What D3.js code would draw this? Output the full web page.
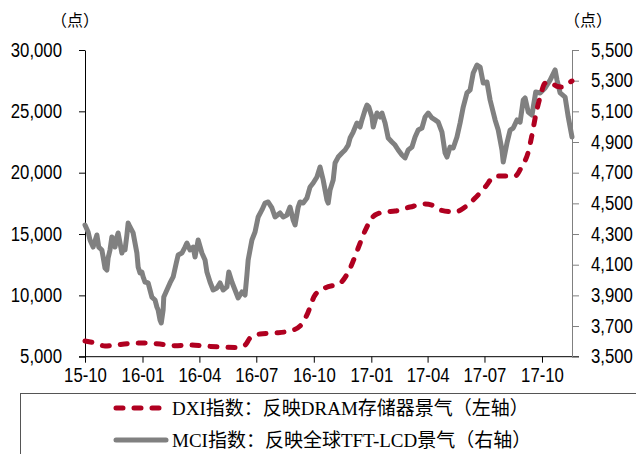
<!DOCTYPE html>
<html><head><meta charset="utf-8">
<script src="https://cdn.jsdelivr.net/npm/d3@7"></script>
<style>body{margin:0;background:#fff}svg{display:block}</style>
</head><body>
<svg id="c" width="636" height="454"></svg>
<script>
const xTickLabels = ["15-10","16-01","16-04","16-07","16-10","17-01","17-04","17-07","17-10"];
const leftTicks = [5000,10000,15000,20000,25000,30000];
const rightTicks = [3500,3700,3900,4100,4300,4500,4700,4900,5100,5300,5500];
const unitLabel = "（点）";
const legendLabels = ["DXI指数：反映DRAM存储器景气（左轴）","MCI指数：反映全球TFT-LCD景气（右轴）"];

const dxiDates = ["2015-10-01","2015-10-17","2015-11-02","2015-11-18","2015-12-12","2016-01-05","2016-01-29","2016-02-22","2016-03-17","2016-04-10","2016-05-04","2016-05-28","2016-06-13","2016-06-21","2016-07-07","2016-07-31","2016-08-24","2016-09-09","2016-09-20","2016-10-03","2016-10-19","2016-11-12","2016-11-28","2016-12-11","2016-12-24","2017-01-07","2017-01-23","2017-02-08","2017-03-04","2017-03-28","2017-04-08","2017-04-21","2017-05-15","2017-05-31","2017-06-16","2017-07-02","2017-07-18","2017-08-03","2017-08-19","2017-08-30","2017-09-09","2017-09-15","2017-09-21","2017-09-28","2017-10-06","2017-10-14","2017-10-24","2017-11-02","2017-11-12","2017-11-18"];
const dxiValues = [6280,6120,5870,5950,6080,6120,6030,5900,5950,5870,5790,5750,5950,6520,6850,6930,7100,7500,8400,10030,10600,11000,12200,13860,15490,16550,16800,16870,17200,17450,17360,16960,16800,17200,17930,18830,19730,19730,19730,20540,21680,23070,24700,26170,27300,27390,27060,26980,27300,27470];

const mciDates = ["2015-10-01","2015-10-06","2015-10-09","2015-10-14","2015-10-20","2015-10-23","2015-10-28","2015-10-30","2015-11-02","2015-11-05","2015-11-07","2015-11-10","2015-11-13","2015-11-15","2015-11-18","2015-11-21","2015-11-23","2015-11-26","2015-11-29","2015-12-01","2015-12-04","2015-12-07","2015-12-09","2015-12-12","2015-12-17","2015-12-20","2015-12-23","2015-12-25","2015-12-28","2015-12-31","2016-01-02","2016-01-05","2016-01-10","2016-01-13","2016-01-16","2016-01-21","2016-01-24","2016-01-26","2016-01-29","2016-01-31","2016-02-03","2016-02-04","2016-02-09","2016-02-14","2016-02-19","2016-02-24","2016-02-27","2016-03-04","2016-03-09","2016-03-12","2016-03-17","2016-03-22","2016-03-25","2016-03-30","2016-04-05","2016-04-10","2016-04-13","2016-04-18","2016-04-23","2016-04-29","2016-05-04","2016-05-09","2016-05-15","2016-05-18","2016-05-23","2016-05-28","2016-06-02","2016-06-08","2016-06-13","2016-06-16","2016-06-18","2016-06-24","2016-06-29","2016-07-04","2016-07-10","2016-07-15","2016-07-20","2016-07-26","2016-07-31","2016-08-08","2016-08-13","2016-08-19","2016-08-24","2016-08-29","2016-09-01","2016-09-06","2016-09-09","2016-09-14","2016-09-20","2016-09-25","2016-09-30","2016-10-06","2016-10-11","2016-10-16","2016-10-22","2016-10-24","2016-10-27","2016-11-01","2016-11-04","2016-11-09","2016-11-15","2016-11-20","2016-11-25","2016-11-28","2016-12-03","2016-12-09","2016-12-14","2016-12-17","2016-12-22","2016-12-25","2016-12-28","2017-01-02","2017-01-04","2017-01-10","2017-01-15","2017-01-18","2017-01-23","2017-01-28","2017-02-03","2017-02-08","2017-02-13","2017-02-19","2017-02-24","2017-03-01","2017-03-07","2017-03-12","2017-03-17","2017-03-23","2017-03-28","2017-04-02","2017-04-08","2017-04-13","2017-04-18","2017-04-24","2017-04-29","2017-05-02","2017-05-07","2017-05-12","2017-05-18","2017-05-23","2017-05-28","2017-06-03","2017-06-08","2017-06-13","2017-06-19","2017-06-24","2017-06-29","2017-07-05","2017-07-10","2017-07-18","2017-07-23","2017-07-29","2017-07-31","2017-08-06","2017-08-11","2017-08-16","2017-08-22","2017-08-27","2017-09-01","2017-09-04","2017-09-09","2017-09-15","2017-09-21","2017-09-28","2017-10-06","2017-10-14","2017-10-22","2017-10-25","2017-10-30","2017-11-07","2017-11-12","2017-11-18"];
const mciValues = [4359,4313,4261,4215,4294,4215,4196,4150,4078,4065,4144,4196,4281,4261,4215,4281,4307,4241,4176,4209,4196,4294,4372,4346,4307,4241,4176,4085,4046,4052,4020,3987,3981,3935,3889,3870,3824,3805,3739,3720,3805,3889,3935,3981,4020,4111,4163,4176,4215,4241,4196,4215,4150,4261,4176,4131,4052,3987,3935,3948,3981,3935,3955,4052,3987,3935,3883,3922,3902,4033,4131,4261,4313,4411,4457,4502,4509,4470,4411,4437,4411,4424,4476,4391,4359,4476,4509,4502,4535,4607,4633,4672,4737,4652,4522,4502,4587,4652,4763,4802,4828,4848,4880,4926,4965,5024,4998,5044,5109,5141,5128,5063,4998,5089,5063,5089,5024,4926,4900,4880,4848,4815,4796,4848,4867,4933,4978,4991,5063,5089,5057,5044,5030,4965,4828,4802,4867,4861,4933,5024,5128,5220,5239,5350,5402,5389,5285,5291,5174,5044,4978,4848,4770,4894,4978,4991,5044,5030,5174,5187,5096,5076,5226,5220,5252,5304,5370,5304,5220,5193,5063,4933];

const parse = d3.timeParse("%Y-%m-%d");
const svg = d3.select("#c");
const x0 = 85, x1 = 572, yTop = 50, yBot = 356.7;
const RED = "#b00020", GRAY = "#808080";
const numFont = "'Liberation Sans',Arial,sans-serif";
const serifFont = "'Liberation Serif','Times New Roman','Noto Sans CJK SC',serif";
const SX = 0.86; // condensed look of the numeric labels

const x = d3.scaleTime().domain([parse("2015-10-01"), parse("2017-11-18")]).range([x0, x1]);
const yL = d3.scaleLinear().domain([5000, 30000]).range([yBot, yTop]);
const yR = d3.scaleLinear().domain([3500, 5500]).range([yBot, yTop]);

const xTickDates = xTickLabels.map(s => new Date(2000 + +s.slice(0,2), +s.slice(3) - 1, 1));

function condense(g) {
  g.selectAll(".tick text").each(function() {
    const t = d3.select(this);
    const xv = +t.attr("x") || 0;
    t.attr("x", xv / SX).attr("transform", `scale(${SX},1)`)
     .attr("font-family", numFont).attr("font-size", 19.5).attr("fill", "#000");
  });
}

// X axis
const gx = svg.append("g").attr("transform", `translate(0,${yBot})`)
  .call(d3.axisBottom(x).tickValues(xTickDates).tickSize(6).tickPadding(5)
    .tickFormat((d,i) => xTickLabels[i]).tickSizeOuter(0));
gx.select(".domain").remove();
gx.append("line").attr("x1", x0 - 6).attr("x2", x1 + 7).attr("stroke", "#000").attr("stroke-width", 1);
gx.selectAll(".tick line").attr("stroke", "#000");
condense(gx);

// Left axis
const gl = svg.append("g").attr("transform", `translate(${x0},0)`)
  .call(d3.axisLeft(yL).tickValues(leftTicks).tickSize(6).tickPadding(17)
    .tickFormat(d3.format(",")).tickSizeOuter(0));
gl.select(".domain").attr("stroke", "#000");
condense(gl);

// Right axis
const gr = svg.append("g").attr("transform", `translate(${x1},0)`)
  .call(d3.axisRight(yR).tickValues(rightTicks).tickSize(7).tickPadding(12)
    .tickFormat(d3.format(",")).tickSizeOuter(0));
gr.select(".domain").attr("stroke", GRAY);
gr.selectAll(".tick line").attr("stroke", GRAY);
condense(gr);

// Unit labels
svg.append("text").attr("x", 75).attr("y", 26).attr("text-anchor", "middle")
  .attr("font-family", serifFont).attr("font-size", 16).text(unitLabel);
svg.append("text").attr("x", 588).attr("y", 26).attr("text-anchor", "middle")
  .attr("font-family", serifFont).attr("font-size", 16).text(unitLabel);

// Lines
const mci = mciDates.map((d,i) => ({d: parse(d), v: mciValues[i]}));
const dxi = dxiDates.map((d,i) => ({d: parse(d), v: dxiValues[i]}));

svg.append("path").datum(mci)
  .attr("d", d3.line().x(p => x(p.d)).y(p => yR(p.v)))
  .attr("fill", "none").attr("stroke", GRAY).attr("stroke-width", 5)
  .attr("stroke-linejoin", "round").attr("stroke-linecap", "round");

svg.append("path").datum(dxi)
  .attr("d", d3.line().curve(d3.curveMonotoneX).x(p => x(p.d)).y(p => yL(p.v)))
  .attr("fill", "none").attr("stroke", RED).attr("stroke-width", 5)
  .attr("stroke-dasharray", "7,11").attr("stroke-linecap", "round");

// Legend
svg.append("rect").attr("x", 20.5).attr("y", 393.5).attr("width", 640).attr("height", 80)
  .attr("fill", "none").attr("stroke", "#555").attr("stroke-width", 1);
const lg = [{c: RED, dash: "7,11", y: 408}, {c: GRAY, dash: null, y: 440}];
lg.forEach((l, i) => {
  svg.append("line").attr("x1", 116).attr("x2", 166).attr("y1", l.y).attr("y2", l.y)
    .attr("stroke", l.c).attr("stroke-width", 5).attr("stroke-linecap", "round")
    .attr("stroke-dasharray", l.dash);
  svg.append("text").attr("x", 172).attr("y", l.y + 7).attr("font-family", serifFont)
    .attr("font-size", 19).attr("fill", "#000").text(legendLabels[i]);
});
</script>
</body></html>
